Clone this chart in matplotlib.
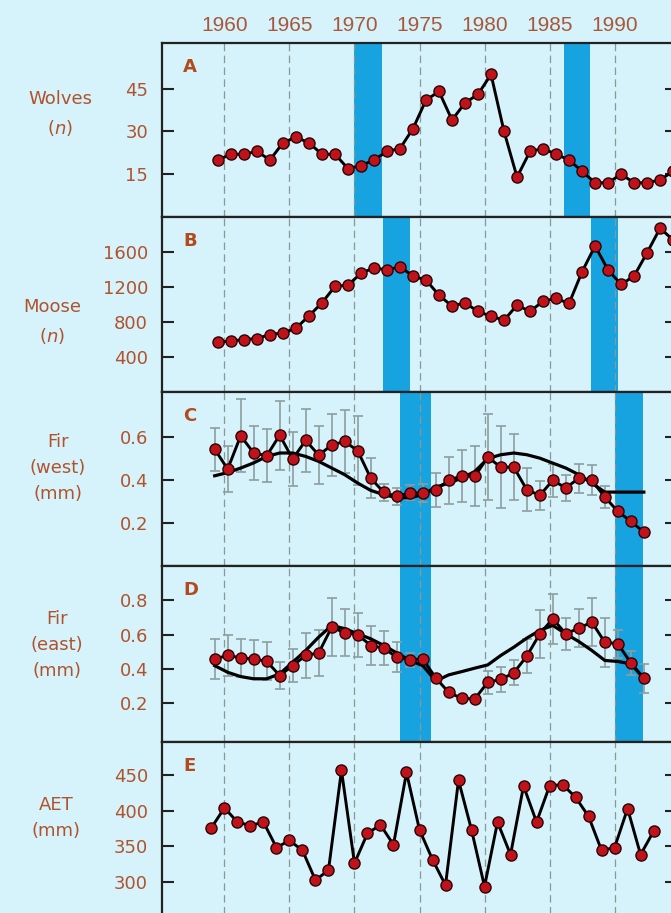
import matplotlib
matplotlib.use("Agg")
import matplotlib.pyplot as plt
import numpy as np

# ---- data ----
census_years = np.arange(1959, 1995)          # wolves and moose (winter counts)
wolves = [20, 22, 22, 23, 20, 26, 28, 26, 22, 22, 17, 18, 20, 23, 24, 31, 41, 44,
          34, 40, 43, 50, 30, 14, 23, 24, 22, 20, 16, 12, 12, 15, 12, 12, 13, 16]
moose = [568, 583, 599, 611, 657, 675, 729, 870, 1019, 1207, 1222, 1356, 1420, 1394,
         1431, 1325, 1279, 1107, 981, 1019, 920, 866, 820, 993, 920, 1038, 1069, 1012,
         1374, 1669, 1394, 1230, 1325, 1592, 1872, 1737]

fir_years = np.arange(1959, 1993)
fir_west = [0.544, 0.451, 0.606, 0.526, 0.513, 0.609, 0.498, 0.585, 0.516, 0.563, 0.580,
            0.536, 0.409, 0.343, 0.324, 0.340, 0.340, 0.355, 0.399, 0.420, 0.417, 0.507,
            0.460, 0.460, 0.355, 0.329, 0.399, 0.363, 0.409, 0.399, 0.321, 0.254, 0.208, 0.158]
fir_west_err = [0.10, 0.107, 0.17, 0.125, 0.124, 0.16, 0.125, 0.148, 0.135, 0.146, 0.147,
                0.16, 0.093, 0.04, 0.04, 0.035, 0.04, 0.08, 0.11, 0.12, 0.14, 0.20, 0.19,
                0.154, 0.10, 0.066, 0.078, 0.062, 0.067, 0.07, 0.05, 0, 0, 0]
fir_west_smooth = [0.42, 0.435, 0.456, 0.48, 0.51, 0.526, 0.526, 0.51, 0.487, 0.456, 0.425,
                   0.386, 0.352, 0.332, 0.318, 0.318, 0.332, 0.367, 0.386, 0.409, 0.44, 0.50,
                   0.518, 0.526, 0.518, 0.502, 0.479, 0.456, 0.425, 0.386, 0.344, 0.344,
                   0.344, 0.344]

fir_east = [0.459, 0.479, 0.465, 0.459, 0.445, 0.362, 0.420, 0.479, 0.494, 0.644, 0.611,
            0.600, 0.537, 0.521, 0.469, 0.454, 0.459, 0.348, 0.264, 0.229, 0.226, 0.323,
            0.339, 0.378, 0.475, 0.605, 0.693, 0.605, 0.638, 0.673, 0.556, 0.547, 0.436, 0.346]
fir_east_err = [0.118, 0.118, 0.11, 0.11, 0.11, 0.078, 0.097, 0.13, 0.135, 0.17, 0.136,
                0.128, 0.112, 0.10, 0.086, 0.04, 0.03, 0, 0, 0, 0, 0.066, 0.07, 0.073,
                0.10, 0.14, 0.146, 0.094, 0.11, 0.14, 0.143, 0.08, 0.07, 0.085]
fir_east_smooth = [0.42, 0.381, 0.356, 0.343, 0.343, 0.372, 0.44, 0.508, 0.586, 0.654, 0.635,
                   0.605, 0.576, 0.537, 0.494, 0.45, 0.42, 0.33, 0.366, 0.385, 0.405, 0.424,
                   0.479, 0.527, 0.58, 0.625, 0.654, 0.605, 0.56, 0.508, 0.45, 0.444, 0.43,
                   0.346]

aet_years = np.arange(1959, 1994)
aet = [376, 404, 384, 379, 384, 348, 358, 344, 302, 316, 457, 326, 368, 380, 352, 454, 373,
       331, 295, 443, 373, 293, 384, 338, 435, 384, 435, 437, 419, 392, 344, 348, 403, 338, 371]

# shaded lag periods per panel
spans_a = [(1970.0, 1972.1), (1986.1, 1988.1)]
spans_b = [(1972.2, 1974.3), (1988.2, 1990.3)]
spans_cd = [(1973.5, 1975.9), (1990.0, 1992.2)]

grid_years = [1960, 1965, 1970, 1975, 1980, 1985, 1990]

# ---- style ----
W, H = 671, 913
bg = '#d6f2fa'
bar_col = '#17a3e0'
txt_col = '#b0532c'
grid_col = '#8a9898'
dot_fc = '#c0121a'
dot_ec = '#2a0505'

fig = plt.figure(figsize=(W / 100, H / 100), dpi=100, facecolor=bg)


def panel(top, bottom):
    # axes box from pixel rows; right edge runs past the picture like the original crop
    ax = fig.add_axes([162 / W, 1 - bottom / H, 515 / W, (bottom - top) / H])
    ax.set_facecolor(bg)
    ax.set_xlim(1955.2, 1994.8)
    ax.set_xticks(grid_years)
    ax.grid(axis='x', color=grid_col, lw=0.9, ls=(0, (6, 3.5)))
    ax.tick_params(axis='x', length=0, labelbottom=False)
    ax.tick_params(axis='y', direction='in', length=8.5, width=1.5, right=True,
                   labelsize=13, labelcolor=txt_col, pad=10, color='#222222')
    for s in ax.spines.values():
        s.set_linewidth(1.6)
        s.set_color('#222222')
    return ax


def series(ax, x, y, err=None, smooth=None):
    if err is not None:
        ax.errorbar(x, y, yerr=err, fmt='none', ecolor='#8c9e9e', elinewidth=1.2,
                    capsize=3.5, capthick=1.2, zorder=2)
    if smooth is not None:
        ax.plot(x, smooth, color='black', lw=2.3, zorder=3)
    ax.plot(x, y, color='black', lw=2.1, marker='o', ms=8, mfc=dot_fc, mec=dot_ec,
            mew=1.0, zorder=4)


def letter(ax, s):
    ax.text(0.041, 0.915, s, transform=ax.transAxes, ha='left', va='top',
            fontsize=13, fontweight='bold', color='#b24a1e')


def ylabel(x, y, s):
    fig.text(x / W, 1 - y / H, s, ha='center', va='center', fontsize=13,
             color=txt_col, linespacing=1.6)


# A: wolves
axA = panel(43, 217)
for a, b in spans_a:
    axA.axvspan(a, b, color=bar_col, lw=0, zorder=0.5)
series(axA, census_years + 0.5, wolves)
axA.set_ylim(0, 61)
axA.set_yticks([15, 30, 45])
axA.tick_params(axis='x', labeltop=True, labelsize=15, labelcolor='#a8583a', pad=6)
for t in axA.get_xticklabels():
    t.set_family(['Liberation Sans Narrow', 'DejaVu Sans Condensed', 'Liberation Sans'])
    t.set_stretch('condensed')
letter(axA, 'A')
ylabel(60, 114, 'Wolves\n($\\it{n}$)')

# B: moose
axB = panel(217, 392)
for a, b in spans_b:
    axB.axvspan(a, b, color=bar_col, lw=0, zorder=0.5)
series(axB, census_years + 0.5, moose)
axB.set_ylim(0, 2000)
axB.set_yticks([400, 800, 1200, 1600])
letter(axB, 'B')
ylabel(52, 322, 'Moose\n($\\it{n}$)')

# C: fir west
axC = panel(392, 566)
for a, b in spans_cd:
    axC.axvspan(a, b, color=bar_col, lw=0, zorder=0.5)
series(axC, fir_years + 0.25, fir_west, fir_west_err, fir_west_smooth)
axC.set_ylim(0, 0.81)
axC.set_yticks([0.2, 0.4, 0.6])
letter(axC, 'C')
ylabel(58, 468, 'Fir\n(west)\n(mm)')

# D: fir east
axD = panel(566, 742)
for a, b in spans_cd:
    axD.axvspan(a, b, color=bar_col, lw=0, zorder=0.5)
series(axD, fir_years + 0.25, fir_east, fir_east_err, fir_east_smooth)
axD.set_ylim(-0.025, 1.0)
axD.set_yticks([0.2, 0.4, 0.6, 0.8])
letter(axD, 'D')
ylabel(57, 645, 'Fir\n(east)\n(mm)')

# E: actual evapotranspiration
axE = panel(742, 917)
series(axE, aet_years, aet)
axE.set_ylim(250, 497)
axE.set_yticks([300, 350, 400, 450])
letter(axE, 'E')
ylabel(56, 818, 'AET\n(mm)')

fig.savefig('out.png', dpi=100, facecolor=bg)
